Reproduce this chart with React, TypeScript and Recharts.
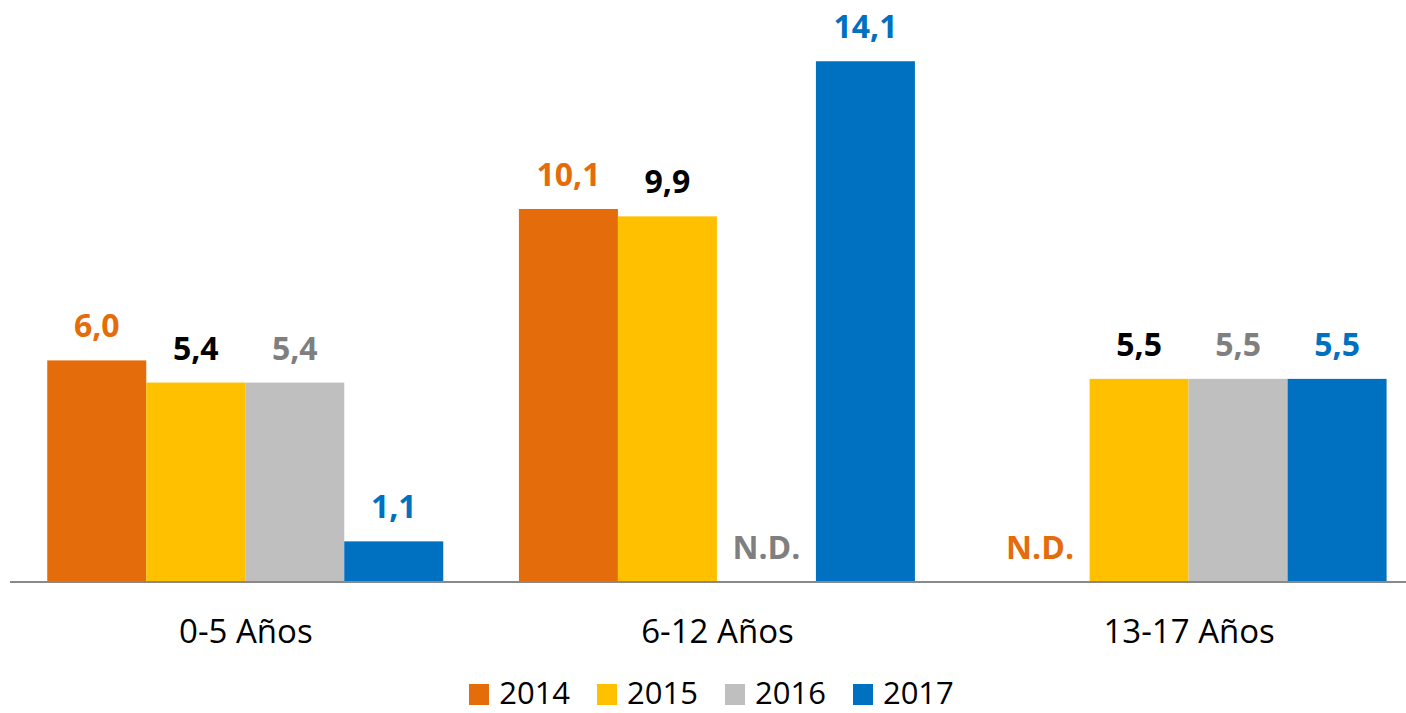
import React from 'react';
import { BarChart, Bar, XAxis, YAxis, Legend } from 'recharts';

const categories = ['0-5 Años', '6-12 Años', '13-17 Años'];
const years = ['2014', '2015', '2016', '2017'];
const values2014: (number | null)[] = [6.0, 10.1, null];
const values2015: (number | null)[] = [5.4, 9.9, 5.5];
const values2016: (number | null)[] = [5.4, null, 5.5];
const values2017: (number | null)[] = [1.1, 14.1, 5.5];

const barColors = ['#E46C0A', '#FFC000', '#BFBFBF', '#0070C0'];
const labelColors = ['#E46C0A', '#000000', '#7F7F7F', '#0070C0'];

const seriesValues = [values2014, values2015, values2016, values2017];

const data = categories.map((name, i) => {
    const row: Record<string, string | number> = { name };
    years.forEach((y, s) => {
        row[y] = seriesValues[s][i] ?? 0;
    });
    return row;
});

const FONT = '"Open Sans", sans-serif';

const fmt = (v: number | null) => (v == null ? 'N.D.' : v.toFixed(1).replace('.', ','));

// draws the bar and its value label together so zero bars still get "N.D."
const makeShape = (s: number) => (props: any) => {
    const { x, y, width, height, payload } = props;
    const ci = categories.indexOf(payload?.name);
    const raw = ci >= 0 ? seriesValues[s][ci] : null;
    const bx = Number(x);
    const by = Number(y);
    const bw = Number(width);
    const bh = Math.max(0, Number(height) || 0);
    return (
        <g>
            {bh > 0 && <rect x={bx} y={by} width={bw} height={bh} fill={barColors[s]} />}
            <text
                x={bx + bw / 2}
                y={by - 23}
                textAnchor="middle"
                fill={labelColors[s]}
                fontSize={32}
                fontWeight={700}
                fontFamily={FONT}
            >
                {fmt(raw)}
            </text>
        </g>
    );
};

const CategoryTick = (props: any) => {
    const { x, y, payload } = props;
    return (
        <text x={x} y={Number(y) + 61} textAnchor="middle" fontSize={33} fill="#000" fontFamily={FONT}>
            {payload.value}
        </text>
    );
};

const LegendContent = () => (
    <div
        style={{
            display: 'flex',
            justifyContent: 'center',
            alignItems: 'flex-end',
            height: 42,
            paddingLeft: 17,
            fontFamily: FONT,
            fontSize: 31,
            color: '#000',
        }}
    >
        {years.map((y, i) => (
            <div key={y} style={{ display: 'flex', alignItems: 'center', marginRight: i < years.length - 1 ? 27 : 0 }}>
                <span style={{ display: 'inline-block', width: 20, height: 21, background: barColors[i], marginRight: 10, marginTop: 4 }} />
                <span>{y}</span>
            </div>
        ))}
    </div>
);

export default function App() {
    return (
        <div style={{ position: 'absolute', left: 0, top: 0, width: 1406, height: 713, overflow: 'hidden', background: '#fff' }}>
            <BarChart
                width={1425}
                height={713}
                data={data}
                margin={{ top: 28, right: 0, bottom: 0, left: 10 }}
                barCategoryGap={37.25}
                barGap={0}
            >
                <XAxis
                    dataKey="name"
                    height={89}
                    tickLine={false}
                    tickSize={0}
                    tickMargin={0}
                    axisLine={{ stroke: '#898989', strokeWidth: 2 }}
                    tick={<CategoryTick />}
                    interval={0}
                />
                <YAxis hide domain={[0, 15]} />
                <Legend
                    verticalAlign="bottom"
                    height={42}
                    wrapperStyle={{ left: 0, width: 1406 }}
                    content={<LegendContent />}
                />
                {years.map((y, s) => (
                    <Bar
                        key={y}
                        dataKey={y}
                        fill={barColors[s]}
                        isAnimationActive={false}
                        shape={makeShape(s)}
                    />
                ))}
            </BarChart>
        </div>
    );
}
